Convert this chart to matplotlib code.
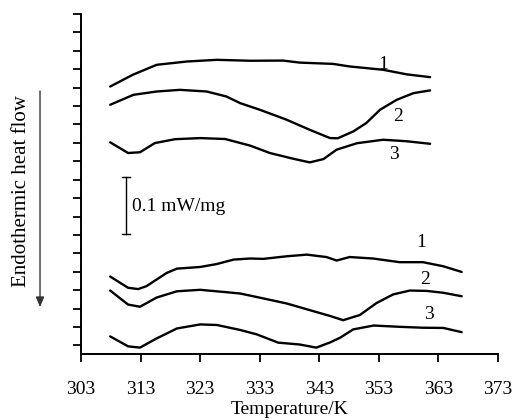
import matplotlib
matplotlib.use("Agg")
import matplotlib.pyplot as plt

plt.rcParams['font.family'] = ['Liberation Serif', 'DejaVu Serif']

# Temperatures (K) and heat flow (in y-axis divisions, arbitrary offset)
T_u1 = [307.9, 311.7, 315.7, 320.8, 325.8, 331.4, 336.9, 339.7, 345.3, 348.1, 353.7, 357.7, 361.6]
y_u1 = [14.06, 14.70, 15.24, 15.42, 15.51, 15.46, 15.47, 15.36, 15.29, 15.15, 14.97, 14.72, 14.57]

T_u2 = [307.9, 311.8, 315.7, 319.6, 324.1, 327.4, 329.7, 333.0, 337.5, 341.4, 344.8, 346.1, 348.7, 350.9, 353.2, 356.0, 358.8, 361.6]
y_u2 = [13.07, 13.61, 13.79, 13.88, 13.79, 13.52, 13.16, 12.80, 12.26, 11.71, 11.26, 11.25, 11.62, 12.08, 12.80, 13.34, 13.70, 13.85]

T_u3 = [307.9, 310.9, 312.9, 315.4, 318.8, 323.0, 327.2, 331.4, 334.7, 338.6, 341.4, 343.7, 345.9, 349.3, 353.7, 357.6, 361.6]
y_u3 = [11.03, 10.45, 10.49, 10.99, 11.20, 11.26, 11.21, 10.85, 10.45, 10.14, 9.94, 10.12, 10.63, 10.98, 11.17, 11.09, 10.95]

T_l1 = [307.9, 310.9, 312.6, 314.0, 315.7, 317.4, 319.1, 323.0, 325.8, 328.6, 331.4, 333.6, 337.5, 340.9, 344.2, 345.9, 348.1, 352.0, 356.5, 360.4, 363.8, 366.9]
y_l1 = [3.74, 3.13, 3.06, 3.22, 3.58, 3.94, 4.17, 4.26, 4.42, 4.66, 4.72, 4.70, 4.84, 4.93, 4.80, 4.61, 4.80, 4.72, 4.52, 4.52, 4.30, 3.99]

T_l2 = [307.9, 310.9, 312.9, 315.7, 319.1, 323.0, 327.4, 329.7, 331.9, 337.5, 342.0, 344.8, 347.0, 349.8, 352.6, 355.4, 358.2, 361.0, 363.8, 366.9]
y_l2 = [2.98, 2.22, 2.10, 2.60, 2.94, 3.02, 2.89, 2.82, 2.67, 2.28, 1.86, 1.60, 1.37, 1.65, 2.30, 2.77, 2.98, 2.96, 2.86, 2.67]

T_l3 = [307.9, 310.9, 312.9, 315.7, 319.1, 323.0, 325.8, 329.7, 332.5, 336.1, 339.7, 342.5, 344.8, 346.5, 348.7, 352.1, 356.5, 360.4, 363.8, 366.9]
y_l3 = [0.49, -0.05, -0.12, 0.38, 0.92, 1.14, 1.11, 0.84, 0.60, 0.15, 0.05, -0.12, 0.16, 0.42, 0.87, 1.08, 1.01, 0.96, 0.95, 0.72]

series = [(T_u1, y_u1), (T_u2, y_u2), (T_u3, y_u3), (T_l1, y_l1), (T_l2, y_l2), (T_l3, y_l3)]

labels = ['1', '2', '3', '1', '2', '3']
label_T = [353.7, 356.2, 355.5, 360.1, 360.7, 361.4]
label_y = [15.27, 12.42, 10.36, 5.57, 3.58, 1.68]

x_ticks = [303, 313, 323, 333, 343, 353, 363, 373]
y_ticks = list(range(0, 19))

fig = plt.figure(figsize=(5.13, 4.20), dpi=100)
ax = fig.add_axes([0.1579, 0.1583, 0.8129, 0.8084])

for T, y in series:
    ax.plot(T, y, color='black', lw=1.7, solid_capstyle='round', solid_joinstyle='round')

for lab, tx, ty in zip(labels, label_T, label_y):
    ax.text(tx, ty, lab, fontsize=14, ha='center', va='center')

ax.set_xlim(303, 373)
ax.set_ylim(-0.44, 18)
ax.set_xticks(x_ticks)
ax.set_xticklabels([str(t) for t in x_ticks], fontsize=14)
ax.set_yticks(y_ticks)
ax.set_yticklabels([])
ax.tick_params(axis='both', direction='out', length=6, width=1.3)
ax.tick_params(axis='x', pad=14)
for s in ['top', 'right']:
    ax.spines[s].set_visible(False)
for s in ['left', 'bottom']:
    ax.spines[s].set_linewidth(1.4)

ax.set_xlabel('Temperature/K', fontsize=14, labelpad=2)

# scale bar: 0.1 mW/mg
sb_T = 310.6
sb_top, sb_bot = 9.16, 6.07
ax.plot([sb_T, sb_T], [sb_bot, sb_top], color='black', lw=1.0)
ax.plot([sb_T - 0.7, sb_T + 0.7], [sb_top, sb_top], color='black', lw=1.0)
ax.plot([sb_T - 0.7, sb_T + 0.7], [sb_bot, sb_bot], color='black', lw=1.0)
ax.text(sb_T + 0.9, 7.55, '0.1 mW/mg', fontsize=14, ha='left', va='center')

# y label with arrow
fig.text(0.041, 0.545, 'Endothermic heat flow', rotation=90, fontsize=15,
         ha='center', va='center')
fig.patches.append(matplotlib.patches.FancyArrowPatch(
    (0.078, 0.790), (0.078, 0.262), transform=fig.transFigure,
    arrowstyle='-|>,head_length=6,head_width=2.5', color='#333333', lw=1.0))

fig.savefig('out.png', dpi=100)
